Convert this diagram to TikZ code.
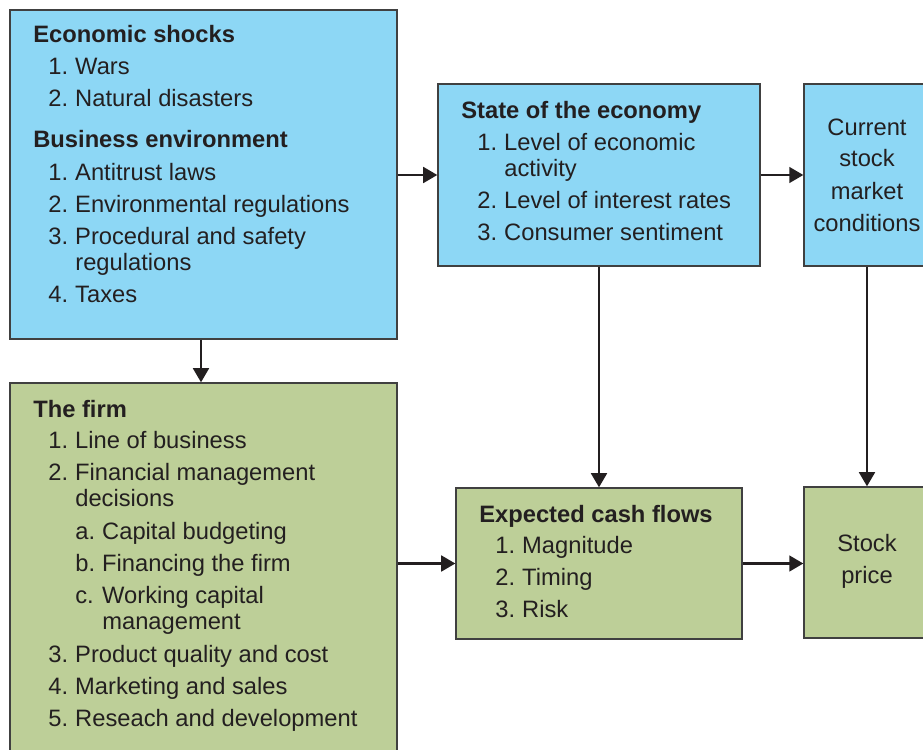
\documentclass[tikz,border=0pt]{standalone}
\usepackage{fontspec}
\setmainfont{Liberation Sans}
\usetikzlibrary{arrows.meta,fit}
\definecolor{skyfill}{HTML}{8DD7F5}
\definecolor{sagefill}{HTML}{BDCF98}
\definecolor{rim}{HTML}{404040}
\definecolor{ink}{HTML}{231F20}
\tikzstyle{box}=[draw=rim,line width=0.8pt,inner sep=0pt,rectangle]
\tikzstyle{blue}=[box,fill=skyfill]
\tikzstyle{green}=[box,fill=sagefill]
\tikzstyle{line}=[anchor=base west,inner sep=0pt,text=ink,font=\fontsize{13.5pt}{16pt}\selectfont]
\tikzstyle{head}=[line,font=\fontsize{13.5pt}{16pt}\selectfont\bfseries]
\tikzstyle{mid}=[line,anchor=base]
\tikzstyle{link}=[draw=ink,line width=1.3pt,-{Triangle[length=8pt,width=9pt]}]
\newcommand{\nb}[1]{\makebox[15.3pt][l]{#1}}

\begin{document}
\begin{tikzpicture}[x=0.02cm,y=-0.02cm]
  \clip (0,0) rectangle (923,750);
  \fill[white] (0,0) rectangle (923,750);

  % boxes
  \node[blue,fit={(10,10) (397,339)}] (econ) {};
  \node[green,fit={(10,383) (397,780)}] (firm) {};
  \node[blue,fit={(438,84) (760,266)}] (state) {};
  \node[blue,fit={(804,84) (930,266)}] (cur) {};
  \node[green,fit={(456,488) (742,639)}] (cash) {};
  \node[green,fit={(804,487) (930,638)}] (price) {};

  % economic shocks / business environment
  \node[head] (econ-h1) at (33,43) {Economic shocks};
  \node[head] (econ-h2) at (33,148) {Business environment};
  \foreach \x/\y/\t [count=\i] in {
      48/75/\nb{1.}Wars, 48/107/\nb{2.}Natural disasters,
      48/180/\nb{1.}Antitrust laws, 48/212/\nb{2.}Environmental regulations,
      48/244/\nb{3.}Procedural and safety, 75/270/regulations,
      48/302/\nb{4.}Taxes}
    \node[line] (econ-\i) at (\x,\y) {\t};

  % the firm
  \node[head] (firm-h) at (33,417) {The firm};
  \foreach \x/\y/\t [count=\i] in {
      48/448/\nb{1.}Line of business, 48/480/\nb{2.}Financial management,
      75/506/decisions, 75/539/\nb{a.}Capital budgeting,
      75/571/\nb{b.}Financing the firm, 75/603/\nb{c.}Working capital,
      102/629/management, 48/662/\nb{3.}Product quality and cost,
      48/694/\nb{4.}Marketing and sales, 48/726/\nb{5.}Reseach and development}
    \node[line] (firm-\i) at (\x,\y) {\t};

  % state of the economy
  \node[head] (state-h) at (461,119) {State of the economy};
  \foreach \x/\y/\t [count=\i] in {
      477/151/\nb{1.}Level of economic, 504/176/activity,
      477/208/\nb{2.}Level of interest rates, 477/240/\nb{3.}Consumer sentiment}
    \node[line] (state-\i) at (\x,\y) {\t};

  % expected cash flows
  \node[head] (cash-h) at (479,522) {Expected cash flows};
  \foreach \y/\t [count=\i] in {553/\nb{1.}Magnitude, 585/\nb{2.}Timing, 617/\nb{3.}Risk}
    \node[line] (cash-\i) at (495,\y) {\t};

  % current market, stock price
  \foreach \y/\t [count=\i] in {135/Current, 167/stock, 199/market, 231/conditions}
    \node[mid] (cur-\i) at (867,\y) {\t};
  \node[mid] (price-1) at (867,551) {Stock};
  \node[mid] (price-2) at (867,583) {price};

  % arrows
  \draw[link] (econ.east |- state.west) -- (state.west);
  \draw[link] (state.east) -- (cur.west |- state.east);
  \draw[link] (econ.south -| 201,0) -- (firm.north -| 201,0);
  \draw[link] (state.south) -- (state.south |- cash.north);
  \draw[link] (cur.south -| 867,0) -- (price.north -| 867,0);
  \draw[link] (firm.east |- cash.west) -- (cash.west);
  \draw[link] (cash.east) -- (price.west |- cash.east);
\end{tikzpicture}
\end{document}
